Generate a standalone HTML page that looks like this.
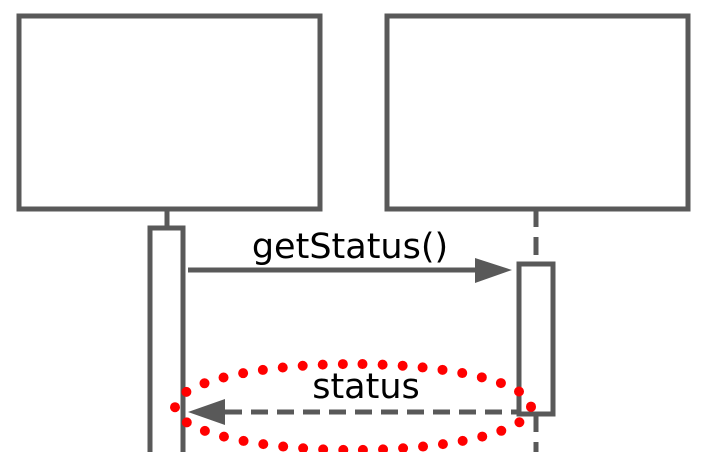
<!DOCTYPE html>
<html><head><style>
html,body{margin:0;padding:0;background:#fff;width:706px;height:452px;overflow:hidden}
</style></head><body>
<svg width="706" height="452" viewBox="0 0 706 452" xmlns="http://www.w3.org/2000/svg">
<g fill="none" stroke="#595959" stroke-width="5">
<rect x="19" y="16" width="301" height="193" fill="#fff"/>
<rect x="387" y="16" width="301" height="193" fill="#fff"/>
<line x1="167" y1="209" x2="167" y2="227"/>
<rect x="150" y="228" width="33" height="240" fill="#fff"/>
<line x1="536" y1="209" x2="536" y2="263" stroke-dasharray="18,10"/>
<line x1="536" y1="414" x2="536" y2="452" stroke-dasharray="18,10"/>
<rect x="519" y="264" width="34" height="150" fill="#fff"/>
<line x1="188" y1="270" x2="478" y2="270"/>
<line x1="225" y1="412" x2="518" y2="412" stroke-dasharray="17,9"/>
</g>
<polygon points="475,258 512,270 475,283" fill="#595959"/>
<polygon points="225,399 188,412 225,425" fill="#595959"/>
<g font-family="'DejaVu Sans','Liberation Sans',sans-serif" font-size="35" fill="#000" text-anchor="middle">
<text x="350" y="258">getStatus()</text>
<text x="366" y="398">status</text>
</g>
<ellipse cx="353" cy="407" rx="178" ry="43" fill="none" stroke="#f00" stroke-width="10" stroke-linecap="round" stroke-dasharray="0,20"/>
</svg>
</body></html>
